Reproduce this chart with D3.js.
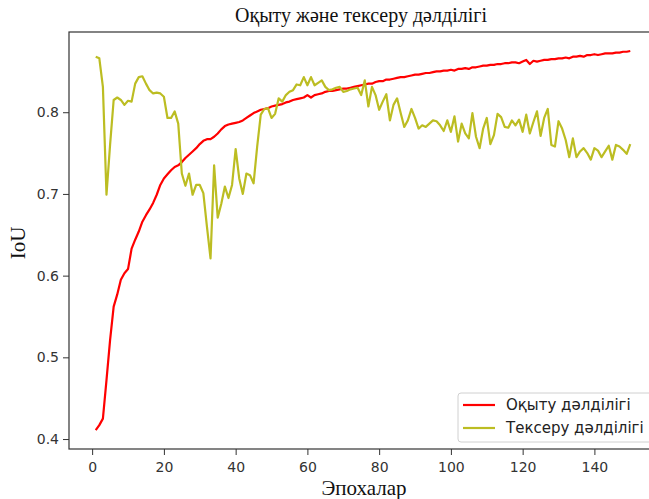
<!DOCTYPE html>
<html>
<head>
<meta charset="utf-8">
<script src="https://cdn.jsdelivr.net/npm/d3@7"></script>
<style>
  body { margin: 0; background: #fff; }
  svg { display: block; }
</style>
</head>
<body>
<div id="chart"></div>
<script>
// values, one per epoch (1..150)
const trainIoU = [
  0.411, 0.417, 0.425, 0.472, 0.521, 0.562, 0.577, 0.595, 0.603, 0.608,
  0.633, 0.644, 0.654, 0.666, 0.674, 0.681, 0.689, 0.699, 0.711, 0.719,
  0.724, 0.729, 0.733, 0.735, 0.739, 0.744, 0.748, 0.752, 0.756, 0.761,
  0.765, 0.767, 0.767, 0.770, 0.774, 0.779, 0.783, 0.785, 0.786, 0.787,
  0.788, 0.790, 0.793, 0.796, 0.799, 0.801, 0.803, 0.804, 0.805, 0.807,
  0.808, 0.809, 0.810, 0.812, 0.813, 0.815, 0.816, 0.817, 0.818, 0.821,
  0.818, 0.821, 0.822, 0.823, 0.825, 0.826, 0.826, 0.827, 0.828, 0.829,
  0.829, 0.830, 0.831, 0.832, 0.833, 0.834, 0.835, 0.835, 0.837, 0.838,
  0.838, 0.840, 0.840, 0.841, 0.842, 0.843, 0.843, 0.844, 0.845, 0.846,
  0.846, 0.847, 0.848, 0.848, 0.849, 0.850, 0.850, 0.851, 0.851, 0.852,
  0.851, 0.853, 0.853, 0.854, 0.853, 0.855, 0.855, 0.856, 0.857, 0.857,
  0.858, 0.858, 0.859, 0.859, 0.860, 0.860, 0.861, 0.861, 0.860, 0.862,
  0.864, 0.859, 0.863, 0.862, 0.863, 0.864, 0.864, 0.865, 0.865, 0.866,
  0.866, 0.867, 0.866, 0.868, 0.868, 0.869, 0.868, 0.870, 0.870, 0.871,
  0.870, 0.871, 0.872, 0.872, 0.872, 0.873, 0.873, 0.874, 0.874, 0.875
];
const valIoU = [
  0.868, 0.866, 0.831, 0.699, 0.760, 0.815, 0.818, 0.815, 0.809, 0.814,
  0.813, 0.835, 0.843, 0.844, 0.835, 0.827, 0.823, 0.824, 0.823, 0.819,
  0.793, 0.793, 0.801, 0.786, 0.725, 0.710, 0.725, 0.699, 0.711, 0.711,
  0.701, 0.660, 0.621, 0.735, 0.671, 0.688, 0.709, 0.695, 0.711, 0.755,
  0.719, 0.700, 0.725, 0.723, 0.713, 0.758, 0.797, 0.804, 0.805, 0.793,
  0.798, 0.817, 0.813, 0.821, 0.825, 0.827, 0.834, 0.833, 0.843, 0.833,
  0.843, 0.833, 0.836, 0.839, 0.831, 0.827, 0.828, 0.830, 0.831, 0.825,
  0.826, 0.828, 0.829, 0.830, 0.821, 0.839, 0.807, 0.831, 0.821, 0.803,
  0.813, 0.822, 0.790, 0.809, 0.817, 0.799, 0.782, 0.790, 0.804, 0.793,
  0.780, 0.784, 0.782, 0.786, 0.790, 0.789, 0.784, 0.777, 0.790, 0.776,
  0.795, 0.764, 0.786, 0.774, 0.768, 0.799, 0.770, 0.756, 0.780, 0.793,
  0.761, 0.772, 0.798, 0.794, 0.782, 0.781, 0.790, 0.784, 0.791, 0.776,
  0.797, 0.774, 0.788, 0.801, 0.771, 0.793, 0.804, 0.760, 0.758, 0.789,
  0.780, 0.766, 0.745, 0.768, 0.745, 0.752, 0.756, 0.750, 0.742, 0.756,
  0.753, 0.745, 0.752, 0.759, 0.742, 0.760, 0.758, 0.754, 0.749, 0.761
];
const epochs = d3.range(1, trainIoU.length + 1);
const xTicks = [0, 20, 40, 60, 80, 100, 120, 140];
const yTicks = [0.4, 0.5, 0.6, 0.7, 0.8];
const seriesNames = ["Оқыту дәлділігі", "Тексеру дәлділігі"];
const seriesColors = ["#ff0000", "#bcbd22"];

const width = 649, height = 499;
const plotL = 69, plotR = 657, plotT = 32, plotB = 449;

const svg = d3.select("#chart").append("svg")
  .attr("width", width)
  .attr("height", height);

// matplotlib-style 5% padding around the data
const xPad = (epochs[epochs.length - 1] - epochs[0]) * 0.05;
const x = d3.scaleLinear()
  .domain([epochs[0] - xPad, epochs[epochs.length - 1] + xPad])
  .range([plotL, plotR]);
const allVals = trainIoU.concat(valIoU);
const yMin = d3.min(allVals), yMax = d3.max(allVals);
const yPad = (yMax - yMin) * 0.05;
const y = d3.scaleLinear()
  .domain([yMin - yPad, yMax + yPad])
  .range([plotB, plotT]);

const line = d3.line()
  .x((d, i) => x(epochs[i]))
  .y((d) => y(d));

[trainIoU, valIoU].forEach((vals, k) => {
  svg.append("path")
    .datum(vals)
    .attr("fill", "none")
    .attr("stroke", seriesColors[k])
    .attr("stroke-width", 2.2)
    .attr("stroke-linejoin", "round")
    .attr("d", line);
});

// axes
const xAxis = svg.append("g")
  .attr("transform", "translate(0," + plotB + ")")
  .call(d3.axisBottom(x).tickValues(xTicks).tickSize(6).tickPadding(7).tickFormat(d3.format("d")));
const yAxis = svg.append("g")
  .attr("transform", "translate(" + plotL + ",0)")
  .call(d3.axisLeft(y).tickValues(yTicks).tickSize(6).tickPadding(4).tickFormat(d3.format(".1f")));
[xAxis, yAxis].forEach((g) => {
  g.select(".domain").remove();
  g.selectAll("line").attr("stroke", "#333").attr("stroke-width", 1);
  g.selectAll("text")
    .attr("fill", "#333")
    .style("font-family", "'DejaVu Sans', sans-serif")
    .style("font-size", "14px");
});

// frame
svg.append("rect")
  .attr("x", plotL).attr("y", plotT)
  .attr("width", plotR - plotL).attr("height", plotB - plotT)
  .attr("fill", "none")
  .attr("stroke", "#333")
  .attr("stroke-width", 1.2);

// texts
svg.append("text")
  .attr("x", 361).attr("y", 22)
  .attr("text-anchor", "middle")
  .style("font-family", "'Liberation Serif', serif")
  .style("font-size", "20px")
  .attr("fill", "#111")
  .text("Оқыту және тексеру дәлділігі");
svg.append("text")
  .attr("x", 364).attr("y", 495)
  .attr("text-anchor", "middle")
  .style("font-family", "'Liberation Serif', serif")
  .style("font-size", "21px")
  .attr("fill", "#111")
  .text("Эпохалар");
svg.append("text")
  .attr("transform", "translate(25,243) rotate(-90)")
  .attr("text-anchor", "middle")
  .style("font-family", "'Liberation Serif', serif")
  .style("font-size", "21px")
  .attr("fill", "#111")
  .text("IoU");

// legend
const leg = svg.append("g").attr("transform", "translate(458,393)");
leg.append("rect")
  .attr("width", 194).attr("height", 49)
  .attr("rx", 3)
  .attr("fill", "#fff").attr("fill-opacity", 0.8)
  .attr("stroke", "#d0d0d0");
seriesNames.forEach((name, i) => {
  const yy = 12 + i * 23;
  leg.append("line")
    .attr("x1", 5).attr("x2", 37)
    .attr("y1", yy).attr("y2", yy)
    .attr("stroke", seriesColors[i])
    .attr("stroke-width", 2.2);
  leg.append("text")
    .attr("x", 48).attr("y", yy + 5)
    .style("font-family", "'DejaVu Sans', sans-serif")
    .style("font-size", "15px")
    .attr("fill", "#222")
    .text(name);
});
</script>
</body>
</html>
